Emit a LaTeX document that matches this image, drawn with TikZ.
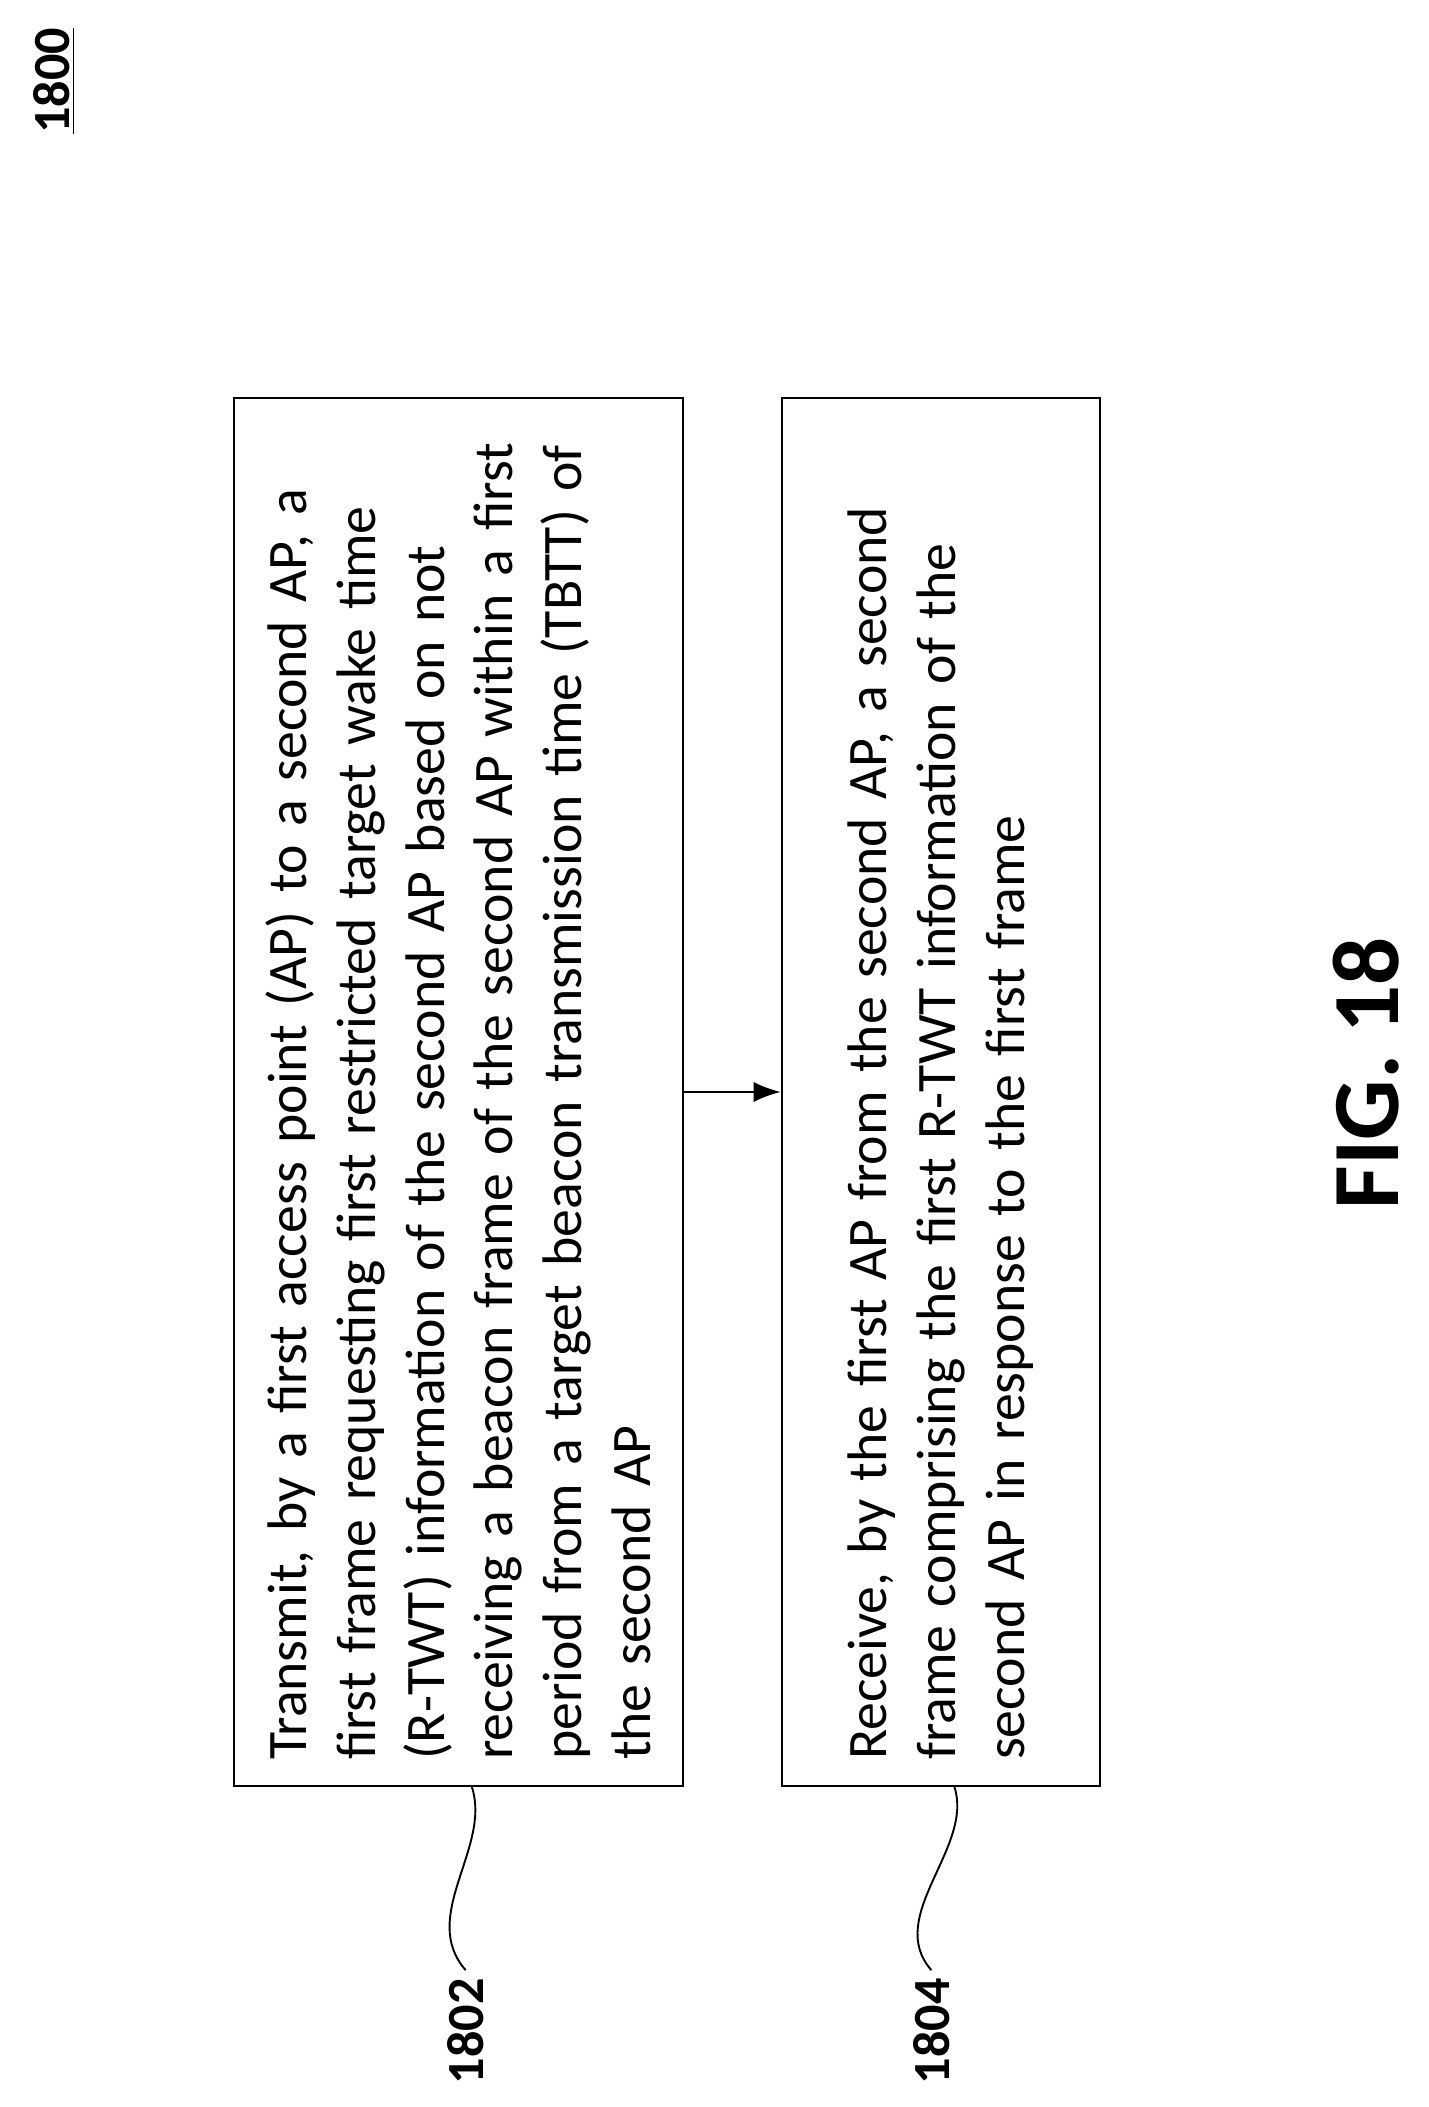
\documentclass[tikz,border=0pt]{standalone}
\usepackage{fontspec}
\setmainfont{Carlito}
\tikzstyle{stepbox} = [rectangle, draw=black, thick, rotate=90, minimum width=20.56cm, text width=19.8cm, align=left, font=\fontsize{23.5}{29}\selectfont]
\tikzstyle{ref} = [rotate=90, font=\fontsize{22}{26}\selectfont\bfseries]
\tikzstyle{arrow} = [thick,-{Latex[length=4mm,width=3mm]}]
\usetikzlibrary{arrows.meta}
\begin{document}
\begin{tikzpicture}[x=0.02cm, y=-0.02cm]
    \useasboundingbox (0,0) rectangle (1058,1561);

    % Draw nodes
    \node (fig) [rotate=90, font=\fontsize{40}{44}\selectfont\bfseries] at (1012,795) {FIG. 18};
    \node (title) [ref] at (40,60) {\underline{1800}};
    \node (transmit) [stepbox, minimum height=6.66cm] at (339.5,809) {Transmit, by a first access point (AP) to a second AP, a\\
first frame requesting first restricted target wake time\\
(R-TWT) information of the second AP based on not\\
receiving a beacon frame of the second AP within a first\\
period from a target beacon transmission time (TBTT) of\\
the second AP};
    \node (receive) [stepbox, minimum height=4.72cm] at (697,809) {Receive, by the first AP from the second AP, a second\\
frame comprising the first R-TWT information of the\\
second AP in response to the first frame};
    \node (l1802) [ref] at (345,1505) {1802};
    \node (l1804) [ref] at (690,1505) {1804};

    % Draw connections
    \draw [arrow] (transmit.south) -- (receive.north);
    \draw [thick] (l1802.east) .. controls +(-35,-40) and +(15,45) .. ([xshift=0.2cm]transmit.west);
    \draw [thick] (l1804.east) .. controls +(-35,-40) and +(15,45) .. ([xshift=0.2cm]receive.west);

\end{tikzpicture}
\end{document}
